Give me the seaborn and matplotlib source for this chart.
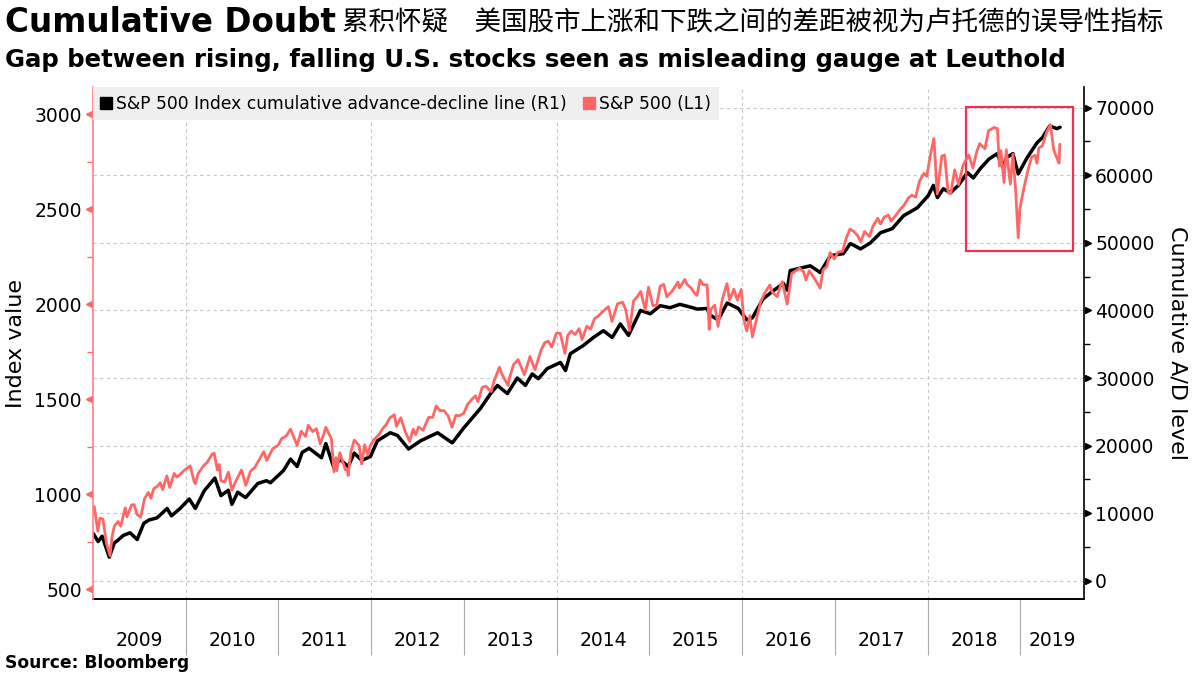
import pandas as pd
import numpy as np
import matplotlib.pyplot as plt
import matplotlib.dates as mdates
import matplotlib.ticker as mtick
import matplotlib.transforms as mtrans
from matplotlib.lines import Line2D
from matplotlib.patches import Rectangle
import seaborn as sns

sns.set_theme(style="white")
plt.rcParams["font.family"] = ["DejaVu Sans", "Noto Sans CJK SC"]
plt.rcParams.update({"text.color": "black", "axes.labelcolor": "black",
                     "xtick.color": "black", "ytick.color": "black"})

# ── data ───────────────────────────────────────────────────────
SPX_DATES = [
    "2009-01-02", "2009-01-06", "2009-01-20", "2009-01-28", "2009-02-09", "2009-02-23",
    "2009-03-09", "2009-03-17", "2009-03-26", "2009-04-09", "2009-04-20", "2009-05-08",
    "2009-05-15", "2009-06-02", "2009-06-12", "2009-06-23", "2009-07-08", "2009-07-23",
    "2009-08-07", "2009-08-17", "2009-08-28", "2009-09-11", "2009-09-23", "2009-10-02",
    "2009-10-19", "2009-10-30", "2009-11-17", "2009-11-27", "2009-12-11", "2009-12-28",
    "2010-01-19", "2010-02-04", "2010-02-08", "2010-02-19", "2010-03-12", "2010-03-26",
    "2010-04-15", "2010-04-23", "2010-05-06", "2010-05-13", "2010-05-20", "2010-06-04",
    "2010-06-18", "2010-07-02", "2010-07-16", "2010-08-09", "2010-08-26", "2010-09-13",
    "2010-09-30", "2010-10-15", "2010-11-05", "2010-11-16", "2010-12-10", "2010-12-31",
    "2011-01-14", "2011-02-01", "2011-02-18", "2011-03-01", "2011-03-16", "2011-04-01",
    "2011-04-18", "2011-04-29", "2011-05-16", "2011-05-31", "2011-06-15", "2011-06-30",
    "2011-07-07", "2011-07-29", "2011-08-08", "2011-08-16", "2011-08-19", "2011-08-31",
    "2011-09-22", "2011-09-30", "2011-10-03", "2011-10-14", "2011-10-27", "2011-11-15",
    "2011-11-25", "2011-12-07", "2011-12-19", "2011-12-30",
    "2012-01-13", "2012-01-31", "2012-02-15", "2012-02-29", "2012-03-15", "2012-04-02",
    "2012-04-10", "2012-04-27", "2012-05-15", "2012-06-01", "2012-06-15", "2012-06-25",
    "2012-07-06", "2012-07-24", "2012-08-15", "2012-08-31", "2012-09-14", "2012-09-28",
    "2012-10-15", "2012-10-31", "2012-11-15", "2012-11-30", "2012-12-14", "2012-12-31",
    "2013-01-15", "2013-01-31", "2013-02-15", "2013-02-25", "2013-03-14", "2013-03-28",
    "2013-04-18", "2013-04-30", "2013-05-21", "2013-05-31", "2013-06-24", "2013-06-28",
    "2013-07-15", "2013-08-02", "2013-08-27", "2013-09-18", "2013-09-30", "2013-10-08",
    "2013-10-31", "2013-11-15", "2013-11-29", "2013-12-13", "2013-12-31",
    "2014-01-15", "2014-02-03", "2014-02-14", "2014-02-28", "2014-03-14", "2014-03-31",
    "2014-04-11", "2014-04-30", "2014-05-15", "2014-05-30", "2014-06-13", "2014-06-30",
    "2014-07-24", "2014-08-07", "2014-08-29", "2014-09-18", "2014-09-30", "2014-10-15",
    "2014-10-31", "2014-11-14", "2014-11-28", "2014-12-16", "2014-12-29",
    "2015-01-15", "2015-01-30", "2015-02-13", "2015-02-27", "2015-03-11", "2015-03-31",
    "2015-04-24", "2015-04-30", "2015-05-21", "2015-05-29", "2015-06-15", "2015-06-29",
    "2015-07-08", "2015-07-20", "2015-07-31", "2015-08-17", "2015-08-25", "2015-08-31",
    "2015-09-16", "2015-09-29", "2015-10-15", "2015-11-03", "2015-11-13", "2015-11-30",
    "2015-12-14", "2015-12-29",
    "2016-01-08", "2016-01-20", "2016-02-01", "2016-02-11", "2016-02-29", "2016-03-15",
    "2016-03-31", "2016-04-20", "2016-04-29", "2016-05-19", "2016-05-31", "2016-06-08",
    "2016-06-27", "2016-07-15", "2016-07-29", "2016-08-15", "2016-08-31", "2016-09-09",
    "2016-09-22", "2016-10-14", "2016-11-04", "2016-11-15", "2016-11-30", "2016-12-13",
    "2016-12-30",
    "2017-01-13", "2017-01-31", "2017-02-15", "2017-03-01", "2017-03-15", "2017-03-31",
    "2017-04-13", "2017-04-28", "2017-05-17", "2017-05-31", "2017-06-19", "2017-06-30",
    "2017-07-14", "2017-07-31", "2017-08-10", "2017-08-31", "2017-09-15", "2017-09-29",
    "2017-10-16", "2017-10-31", "2017-11-15", "2017-11-30", "2017-12-18", "2017-12-29",
    "2018-01-12", "2018-01-26", "2018-02-08", "2018-02-26", "2018-03-09", "2018-03-23",
    "2018-04-02", "2018-04-18", "2018-05-03", "2018-05-21", "2018-06-12", "2018-06-29",
    "2018-07-13", "2018-07-25", "2018-08-15", "2018-08-29", "2018-09-20", "2018-10-03",
    "2018-10-11", "2018-10-17", "2018-10-29", "2018-11-07", "2018-11-23", "2018-12-03",
    "2018-12-14", "2018-12-24", "2018-12-31",
    "2019-01-15", "2019-01-31", "2019-02-15", "2019-02-28", "2019-03-08", "2019-03-15",
    "2019-03-29", "2019-04-15", "2019-04-30", "2019-05-13", "2019-05-31", "2019-06-03",
    "2019-06-06",
]
SPX_VALUES = [
    931, 935, 805, 874, 870, 743, 677, 778, 832, 857, 832, 929,
    882, 944, 946, 895, 880, 977, 1010, 979, 1029, 1042, 1061, 1025,
    1097, 1036, 1110, 1091, 1106, 1128,
    1150, 1064, 1056, 1109, 1150, 1167, 1211, 1217, 1128, 1157, 1071, 1065,
    1117, 1022, 1065, 1128, 1047, 1121, 1141, 1176, 1225, 1178, 1240, 1258,
    1293, 1307, 1343, 1306, 1257, 1332, 1305, 1364, 1330, 1345, 1265, 1321,
    1353, 1292, 1119, 1193, 1124, 1219, 1129, 1131, 1099, 1225, 1285, 1257,
    1159, 1261, 1206, 1258,
    1289, 1312, 1344, 1366, 1402, 1419, 1358, 1403, 1330, 1278, 1343, 1314,
    1354, 1338, 1405, 1406, 1465, 1441, 1440, 1412, 1353, 1416, 1413, 1426,
    1472, 1498, 1519, 1488, 1563, 1569, 1541, 1598, 1669, 1631, 1573, 1606,
    1682, 1709, 1630, 1725, 1682, 1656, 1757, 1798, 1806, 1775, 1848,
    1848, 1742, 1838, 1859, 1841, 1872, 1815, 1884, 1870, 1924, 1937, 1960,
    1988, 1910, 2003, 2011, 1972, 1862, 2018, 2039, 2068, 1972, 2090,
    1993, 1995, 2096, 2105, 2040, 2068, 2117, 2086, 2131, 2107, 2085, 2058,
    2047, 2129, 2104, 2102, 1868, 1972, 1996, 1884, 2023, 2109, 2023, 2080,
    2022, 2078,
    1922, 1859, 1940, 1829, 1932, 2015, 2060, 2102, 2065, 2040, 2097, 2119,
    2001, 2162, 2174, 2190, 2171, 2128, 2177, 2133, 2085, 2180, 2199, 2272,
    2239,
    2275, 2279, 2349, 2396, 2385, 2363, 2329, 2384, 2357, 2412, 2453, 2423,
    2459, 2470, 2438, 2472, 2500, 2519, 2557, 2575, 2564, 2648, 2690, 2674,
    2786, 2873, 2581, 2780, 2786, 2588, 2582, 2708, 2630, 2733, 2786, 2718,
    2801, 2846, 2819, 2914, 2931, 2925, 2728, 2809, 2641, 2814, 2633, 2790,
    2600, 2351, 2507,
    2610, 2704, 2776, 2784, 2743, 2822, 2834, 2906, 2946, 2812, 2752, 2744,
    2843,
]

AD_DATES = [
    "2009-01-02", "2009-01-21", "2009-02-06", "2009-03-06", "2009-03-26", "2009-04-06",
    "2009-04-30", "2009-05-27", "2009-06-24", "2009-07-20", "2009-08-10", "2009-09-10",
    "2009-10-20", "2009-11-06", "2009-12-10",
    "2010-01-15", "2010-02-08", "2010-03-15", "2010-04-26", "2010-05-20", "2010-06-18",
    "2010-07-02", "2010-07-25", "2010-08-25", "2010-10-12", "2010-11-15", "2010-12-01",
    "2011-01-21", "2011-02-18", "2011-03-16", "2011-04-05", "2011-05-02", "2011-06-20",
    "2011-07-07", "2011-08-08", "2011-08-31", "2011-10-03", "2011-10-27", "2011-11-25",
    "2011-12-30",
    "2012-01-26", "2012-03-17", "2012-04-14", "2012-05-28", "2012-07-14", "2012-09-19",
    "2012-11-16", "2012-12-31",
    "2013-03-07", "2013-04-16", "2013-05-13", "2013-06-21", "2013-07-30", "2013-08-31",
    "2013-09-27", "2013-10-21", "2013-11-25",
    "2014-01-16", "2014-02-05", "2014-02-24", "2014-04-16", "2014-05-26", "2014-07-04",
    "2014-08-08", "2014-09-09", "2014-10-11", "2014-11-27",
    "2015-01-05", "2015-02-13", "2015-03-24", "2015-05-01", "2015-06-01", "2015-07-10",
    "2015-08-18", "2015-08-25", "2015-09-29", "2015-11-04", "2015-12-17",
    "2016-01-20", "2016-02-11", "2016-03-24", "2016-05-03", "2016-06-12", "2016-06-27",
    "2016-07-09", "2016-09-26", "2016-10-24", "2016-11-04", "2016-12-14",
    "2017-02-03", "2017-03-03", "2017-04-12", "2017-05-21", "2017-06-30", "2017-08-15",
    "2017-09-28", "2017-11-22",
    "2018-01-04", "2018-01-24", "2018-02-09", "2018-03-04", "2018-04-01", "2018-05-02",
    "2018-06-07", "2018-06-30", "2018-07-28", "2018-08-31", "2018-10-02", "2018-10-24",
    "2018-11-08", "2018-12-03", "2018-12-24",
    "2019-01-28", "2019-03-08", "2019-03-30", "2019-04-27", "2019-05-25", "2019-06-07",
]
AD_VALUES = [
    7000, 5800, 6600, 3500, 5600, 5900, 6700, 7100, 6100, 8500, 9000, 9300,
    10700, 9600, 10700,
    12100, 10700, 13300, 15200, 12600, 13400, 11300, 13100, 12300, 14400, 14800, 14500,
    16300, 18000, 16900, 19000, 19600, 18200, 20300, 16700, 18000, 16900, 18900, 17800,
    18400,
    20700, 21900, 21500, 19500, 20700, 21900, 20400, 22600,
    25500, 27700, 28900, 27700, 30000, 28900, 30600, 29900, 31400,
    32300, 31100, 33600, 34800, 36000, 37000, 36000, 38000, 36300, 40000,
    39500, 40700, 40400, 40900, 40600, 40200, 40300, 39400, 38600, 41100, 40300,
    38600, 38900, 41700, 42900, 44000, 43000, 45900, 46600, 45900, 45600, 48100,
    48400, 49900, 49100, 50000, 51500, 52100, 54000, 55200,
    57000, 58500, 56700, 58000, 57400, 58500, 60400, 59600, 61000, 62400, 63200, 61200,
    62600, 63200, 60200,
    62600, 64800, 65600, 67300, 66900, 67100,
]

# highlighted window (red box)
BOX_START, BOX_END = "2018-06-03", "2019-07-28"
BOX_LOW, BOX_HIGH = 48800, 70100

RED = "#ff6666"
SPINE_RED = "#ff8080"
BOX_RED = "#f0304f"

spx = pd.DataFrame({"Date": pd.to_datetime(SPX_DATES), "Value": SPX_VALUES})
ad = pd.DataFrame({"Date": pd.to_datetime(AD_DATES), "Value": AD_VALUES})

fig = plt.figure(figsize=(12, 6.75), dpi=100)
ax = fig.add_axes([0.0775, 0.1126, 0.8258, 0.7585])   # A/D line, right axis
ax_l = ax.twinx()                                      # S&P 500, left axis

sns.lineplot(data=ad, x="Date", y="Value", ax=ax, color="black", lw=2.5)
sns.lineplot(data=spx, x="Date", y="Value", ax=ax_l, color=RED, lw=2.0)

x0, x1 = pd.Timestamp("2009-01-01"), pd.Timestamp("2019-09-09")
ax.set_xlim(x0, x1)
ax.set_ylim(-2700, 73060)
ax_l.set_ylim(449, 3144)

# right axis (A/D)
ax.yaxis.tick_right()
ax.yaxis.set_label_position("right")
ax.yaxis.set_major_locator(mtick.MultipleLocator(10000))
ax.yaxis.set_minor_locator(mtick.MultipleLocator(5000))
ax.tick_params(axis="y", which="major", length=0, pad=8, labelsize=13.5, colors="black")
ax.tick_params(axis="y", which="minor", right=True, length=4, width=1, color="black",
               direction="out")
ax.set_ylabel("Cumulative A/D level", rotation=270, fontsize=16, labelpad=24)
ax.yaxis.grid(True, ls=(0, (3, 3)), color="#c8c8c8", lw=0.8)

# left axis (S&P)
ax_l.yaxis.tick_left()
ax_l.yaxis.set_label_position("left")
ax_l.yaxis.set_major_locator(mtick.MultipleLocator(500))
ax_l.yaxis.set_minor_locator(mtick.MultipleLocator(250))
ax_l.tick_params(axis="y", which="major", length=0, pad=8, labelsize=13.5, labelcolor="black")
ax_l.tick_params(axis="y", which="minor", left=True, length=4, width=1, color=RED,
                 direction="out")
ax_l.set_ylabel("Index value", fontsize=16, labelpad=6)

# triangle tick markers
tr_l = mtrans.offset_copy(ax_l.get_yaxis_transform(), fig=fig, x=-3, units="points")
lt = [t for t in ax_l.get_yticks() if 449 <= t <= 3144]
ax_l.plot([0] * len(lt), lt, transform=tr_l, ls="none", marker="<", ms=5,
          color=RED, clip_on=False)
tr_r = mtrans.offset_copy(ax.get_yaxis_transform(), fig=fig, x=3, units="points")
rt = [t for t in ax.get_yticks() if -2700 <= t <= 73060]
ax.plot([1] * len(rt), rt, transform=tr_r, ls="none", marker=">", ms=5,
        color="black", clip_on=False)

# x axis: long separators at year starts, labels centred in each year
years = list(range(2009, 2020))
bounds = [pd.Timestamp(f"{y}-01-01") for y in years[1:]]
mids = []
for y in years:
    a = max(pd.Timestamp(f"{y}-01-01"), x0)
    b = min(pd.Timestamp(f"{y + 1}-01-01"), x1)
    mids.append(a + (b - a) / 2)
ax.set_xticks(bounds)
ax.set_xticklabels([])
ax.set_xticks(mids, minor=True)
ax.set_xticklabels([str(y) for y in years], minor=True)
ax.tick_params(axis="x", which="major", bottom=True, length=40, width=0.8,
               color="#aaaaaa", direction="out")
ax.tick_params(axis="x", which="minor", bottom=True, length=0, pad=23, labelsize=13.5)
ax.set_xlabel("")
ax_l.set_xlabel("")
for b in bounds[::2]:
    ax.axvline(b, ls=(0, (3, 3)), color="#c8c8c8", lw=0.8, zorder=0)

# spines
for a in (ax, ax_l):
    a.spines["top"].set_visible(False)
ax.spines["left"].set_visible(False)
ax_l.spines["right"].set_visible(False)
ax_l.spines["bottom"].set_visible(False)
ax_l.spines["left"].set_color(SPINE_RED)
ax_l.spines["left"].set_linewidth(1.2)
ax.spines["right"].set_color("black")
ax.spines["right"].set_linewidth(1.2)
ax.spines["bottom"].set_color("black")
ax.spines["bottom"].set_linewidth(1.4)

# highlight box
bx0, bx1 = mdates.date2num(pd.Timestamp(BOX_START)), mdates.date2num(pd.Timestamp(BOX_END))
ax.add_patch(Rectangle((bx0, BOX_LOW), bx1 - bx0, BOX_HIGH - BOX_LOW, fill=False,
                       lw=1.6, ec=BOX_RED, zorder=5))

# legend
handles = [Line2D([], [], ls="none", marker="s", ms=8, color="black"),
           Line2D([], [], ls="none", marker="s", ms=8, color=RED)]
labels = ["S&P 500 Index cumulative advance-decline line (R1)", "S&P 500 (L1)"]
leg = ax_l.legend(handles, labels, loc="upper left", bbox_to_anchor=(0, 1), ncol=2,
                  frameon=True, fancybox=False, facecolor="#efefef", edgecolor="none",
                  framealpha=1, borderaxespad=0, handlelength=0.6, handletextpad=0.3,
                  columnspacing=1.0, fontsize=12.3, borderpad=0.45)
leg.set_zorder(10)

# titles
fig.text(0.004, 1 - 23 / 675, "Cumulative Doubt", fontsize=23.5, fontweight="bold",
         va="center", ha="left")
fig.text(342 / 1200, 1 - 23 / 675, "累积怀疑\u3000美国股市上涨和下跌之间的差距被视为卢托德的误导性指标",
         fontsize=19.1, va="center", ha="left", family=["Noto Sans CJK SC", "DejaVu Sans"])
fig.text(0.004, 1 - 60 / 675,
         "Gap between rising, falling U.S. stocks seen as misleading gauge at Leuthold",
         fontsize=17.6, fontweight="bold", va="center", ha="left")
fig.text(0.004, 1 - 663 / 675, "Source: Bloomberg", fontsize=12.3, fontweight="bold",
         va="center", ha="left")

plt.savefig("out.png", dpi=100)
plt.close()
